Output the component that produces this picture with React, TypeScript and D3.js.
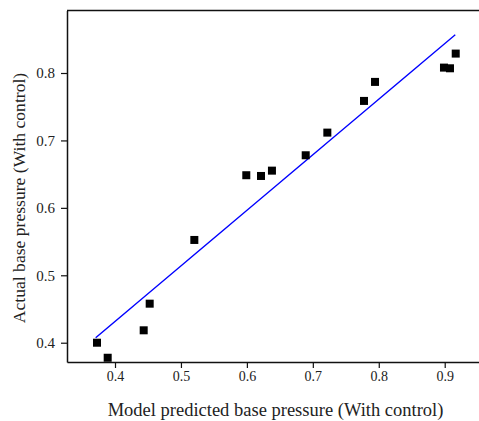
import React, { useEffect, useRef } from 'react';
import * as d3 from 'd3';

// readings
const predicted = [0.3727, 0.3889, 0.4435, 0.4526, 0.5203, 0.5991, 0.6214, 0.638, 0.6892, 0.722, 0.7776, 0.7943, 0.8989, 0.908, 0.9167];
const actual = [0.400, 0.3777, 0.4184, 0.4579, 0.5524, 0.6484, 0.6473, 0.6552, 0.678, 0.7116, 0.7586, 0.7868, 0.808, 0.807, 0.8288];
const fitX = [0.3707, 0.916];
const fitY = [0.4074, 0.8568];
const xTicks = [0.4, 0.5, 0.6, 0.7, 0.8, 0.9];
const yTicks = [0.4, 0.5, 0.6, 0.7, 0.8];

const W = 479, H = 421;
const FONT = '"Liberation Serif", "Times New Roman", serif';

const App = () => {
  const ref = useRef<SVGSVGElement>(null);

  useEffect(() => {
    if (!ref.current) return;
    const svg = d3.select(ref.current);
    svg.selectAll('*').remove();

    const left = 67, right = 479, top = 10.5, bottom = 362;
    const x = d3.scaleLinear().domain([0.3272, 0.952]).range([left, right]);
    const y = d3.scaleLinear().domain([0.3714, 0.8927]).range([bottom, top]);

    // top frame line
    svg.append('line')
      .attr('x1', left).attr('x2', right)
      .attr('y1', top).attr('y2', top)
      .attr('stroke', '#111').attr('stroke-width', 1.5);

    const gx = svg.append('g')
      .attr('transform', `translate(0,${bottom})`)
      .call(d3.axisBottom(x).tickValues(xTicks).tickFormat(d3.format('.1f')).tickSize(6).tickSizeOuter(0));
    gx.select('.domain').attr('stroke', '#111').attr('stroke-width', 1.5);
    gx.selectAll('.tick line').attr('stroke', '#111').attr('stroke-width', 1.2);
    gx.selectAll('.tick text')
      .attr('font-family', FONT).attr('font-size', 14).attr('fill', '#222').attr('y', 9);

    const gy = svg.append('g')
      .attr('transform', `translate(${left},0)`)
      .call(d3.axisLeft(y).tickValues(yTicks).tickFormat(d3.format('.1f')).tickSize(6).tickSizeOuter(0));
    gy.select('.domain').attr('stroke', '#111').attr('stroke-width', 1.5);
    gy.selectAll('.tick line').attr('stroke', '#111').attr('stroke-width', 1.2);
    gy.selectAll('.tick text')
      .attr('font-family', FONT).attr('font-size', 15).attr('fill', '#222').attr('x', -12);

    // fitted line
    const line = d3.line<number>().x((d) => x(d)).y((_, i) => y(fitY[i]));
    svg.append('path')
      .attr('d', line(fitX))
      .attr('fill', 'none')
      .attr('stroke', '#0000ff')
      .attr('stroke-width', 1.4);

    const s = 8;
    svg.selectAll('.pt')
      .data(predicted)
      .enter().append('rect')
      .attr('class', 'pt')
      .attr('x', (d) => x(d) - s / 2)
      .attr('y', (_, i) => y(actual[i]) - s / 2)
      .attr('width', s)
      .attr('height', s)
      .attr('fill', '#000');

    svg.append('text')
      .attr('x', 275.5).attr('y', 416)
      .attr('text-anchor', 'middle')
      .attr('font-family', FONT).attr('font-size', 18.5).attr('fill', '#222')
      .text('Model predicted base pressure (With control)');

    svg.append('text')
      .attr('transform', 'translate(25,198) rotate(-90)')
      .attr('text-anchor', 'middle')
      .attr('font-family', FONT).attr('font-size', 17.6).attr('fill', '#222')
      .text('Actual base pressure (With control)');
  }, []);

  return (
    <svg ref={ref} width={W} height={H} style={{ position: 'absolute', left: 0, top: 0, background: '#fff' }} />
  );
};

export default App;
